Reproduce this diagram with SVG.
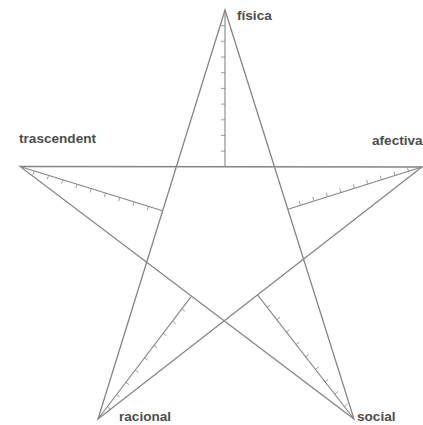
<svg xmlns="http://www.w3.org/2000/svg" width="423" height="425" viewBox="0 0 423 425">
<style>
.star{fill:none;stroke:#858585;stroke-width:1.3;stroke-linejoin:miter}
.scale{fill:none;stroke:#858585;stroke-width:1.1}
.tick{fill:none;stroke:#858585;stroke-width:0.8}
.lbl{font-family:"Liberation Sans",Arial,sans-serif;font-weight:bold;font-size:13.6px;fill:#4d4d4d}
</style>
<rect width="423" height="425" fill="#fff"/>
<g id="connectors">
<path class="star" d="M225,10 L98,419 L422,167 L20,166.5 L354,419 Z"/>
<g id="scales">
<path class="scale" d="M225,10 L225,166.8"/>
<path class="tick" d="M225,25.68h-4M225,41.36h-4M225,57.04h-4M225,72.72h-4M225,88.4h-4M225,104.08h-4M225,119.76h-4M225,135.44h-4M225,151.12h-4"/>
<path class="scale" d="M20,166.5 L162.65,210.8"/>
<path class="tick" d="M34.27,170.93l-1.19,3.82M48.53,175.36l-1.19,3.82M62.8,179.79l-1.19,3.82M77.06,184.22l-1.19,3.82M91.33,188.65l-1.19,3.82M105.59,193.08l-1.19,3.82M119.86,197.51l-1.19,3.82M134.12,201.94l-1.19,3.82M148.39,206.37l-1.19,3.82"/>
<path class="scale" d="M422,167 L287.9,209.3"/>
<path class="tick" d="M408.48,171.2l-1.19,-3.82M394.96,175.4l-1.19,-3.82M381.44,179.6l-1.19,-3.82M367.92,183.8l-1.19,-3.82M354.4,188l-1.19,-3.82M340.88,192.2l-1.19,-3.82M327.36,196.4l-1.19,-3.82M313.84,200.6l-1.19,-3.82M300.32,204.8l-1.19,-3.82"/>
<path class="scale" d="M98,419 L191.1,296.6"/>
<path class="tick" d="M107.31,406.76l3.18,2.42M116.62,394.52l3.18,2.42M125.93,382.28l3.18,2.42M135.24,370.04l3.18,2.42M144.55,357.8l3.18,2.42M153.86,345.56l3.18,2.42M163.17,333.32l3.18,2.42M172.48,321.08l3.18,2.42M181.79,308.84l3.18,2.42"/>
<path class="scale" d="M354,419 L257.5,294.9"/>
<path class="tick" d="M344.35,406.59l3.16,-2.46M334.7,394.18l3.16,-2.46M325.05,381.77l3.16,-2.46M315.4,369.36l3.16,-2.46M305.75,356.95l3.16,-2.46M296.1,344.54l3.16,-2.46M286.45,332.13l3.16,-2.46M276.8,319.72l3.16,-2.46M267.15,307.31l3.16,-2.46"/>
</g>
</g>
<g id="fisica"><text class="lbl" x="237" y="20">física</text></g>
<g id="trascendent"><text class="lbl" x="19" y="143">trascendent</text></g>
<g id="afectiva"><text class="lbl" x="372" y="145">afectiva</text></g>
<g id="racional"><text class="lbl" x="119" y="421">racional</text></g>
<g id="social"><text class="lbl" x="357" y="421">social</text></g>
</svg>
